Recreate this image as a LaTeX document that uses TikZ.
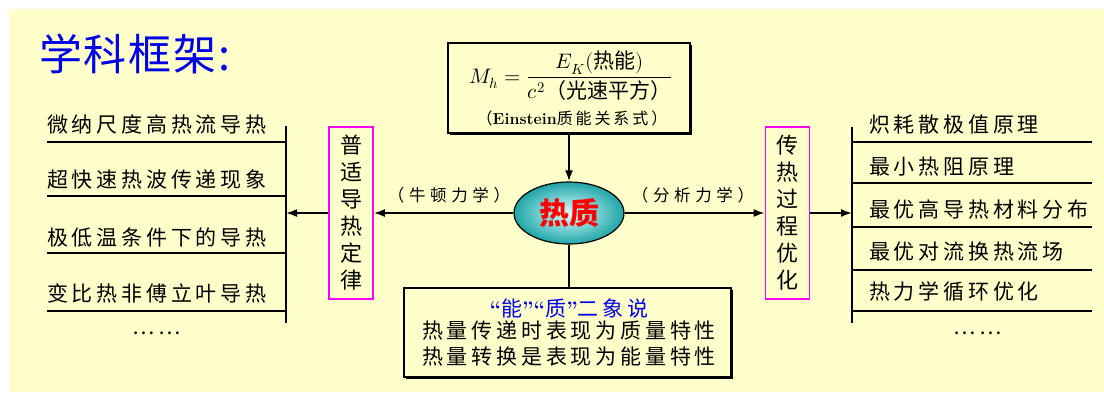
\documentclass[tikz,border=0pt]{standalone}
\usepackage{amsmath}
\usepackage{fontspec}
\usepackage{unicode-math}
\newfontfamily\cjk{Noto Sans CJK SC}
\newfontfamily\cjksp[LetterSpace=18]{Noto Sans CJK SC}
\newfontfamily\cjklbl[LetterSpace=28]{Noto Sans CJK SC}
\newfontfamily\cjktitle[LetterSpace=4]{Noto Sans CJK SC}
\usetikzlibrary{shapes.geometric,arrows.meta,shadows}
\definecolor{bgy}{HTML}{FFFFCC}
\definecolor{tblue}{HTML}{0000E6}
\definecolor{mag}{HTML}{FF00FF}
\definecolor{teal1}{HTML}{1FA5A8}
\newcommand{\myLq}{{\rmfamily\bfseries“}}
\newcommand{\myRq}{{\rmfamily\bfseries”}}
\begin{document}
\begin{tikzpicture}[x=1pt,y=-1pt,
 arr/.style={line width=1.8pt,-{Latex[length=11pt,width=8pt]}},
 ln/.style={line width=1.8pt},
 item/.style={anchor=west,inner sep=0pt,font=\cjksp\fontsize{21}{24}\selectfont},
 vbox/.style={draw=mag,line width=1.6pt,fill=bgy,minimum width=44pt,minimum height=172pt,inner sep=0pt,align=center,font=\cjk\fontsize{22}{27}\selectfont},
 sbox/.style={draw=black,line width=1.5pt,fill=bgy,inner sep=0pt,drop shadow={shadow xshift=1.5pt,shadow yshift=-1.5pt,opacity=1,fill=black}},
 lbl/.style={inner sep=0pt,font=\cjklbl\fontsize{16.5}{18}\selectfont}
]
\useasboundingbox (0,0) rectangle (1104,392);
\fill[bgy] (9,9) rectangle (1104,392);

% title
\node[anchor=west,inner sep=0pt,text=tblue,font=\cjktitle\fontsize{43}{46}\selectfont] (title) at (39,54) {学科框架:};

% formula box
\node[sbox,minimum width=242pt,minimum height=90pt] (fm) at (569,88) {};
\node[inner sep=0pt,font=\fontsize{21}{24}\selectfont] (eq) at (571,76)
  {$M_h=\dfrac{E_K(\mbox{\cjk 热能})}{c^2\mbox{\cjk （光速平方）}}$};
\node[inner sep=0pt,font=\cjksp\fontsize{16}{18}\selectfont] (ein) at (572,118) {（{\rmfamily\bfseries Einstein}质能关系式）};

% centre ellipse
\node[ellipse,draw=black,line width=1.2pt,inner color=white!85!cyan,outer color=teal1,
  minimum width=110pt,minimum height=62pt,text=red,
  font=\cjk\bfseries\fontsize{30}{32}\selectfont] (rz) at (569,213) {热质};

% side boxes
\node[vbox] (lb) at (351,213) {普\\适\\导\\热\\定\\律};
\node[vbox] (rb) at (787.5,213) {传\\热\\过\\程\\优\\化};

% bottom box
\node[sbox,minimum width=327pt,minimum height=89pt] (bb) at (567.5,332.5) {};
\node[inner sep=0pt,font=\cjksp\fontsize{21}{24}\selectfont,text=tblue] (b1) at (569,308) {\myLq 能\myRq\myLq 质\myRq 二象说};
\node[inner sep=0pt,font=\cjksp\fontsize{21}{24}\selectfont] (b2) at (569,331) {热量传递时表现为质量特性};
\node[inner sep=0pt,font=\cjksp\fontsize{21}{24}\selectfont] (b3) at (569,357) {热量转换是表现为能量特性};

% labels
\node[lbl] (nt) at (449,195) {（牛顿力学）};
\node[lbl] (fx) at (693,195) {（分析力学）};

% left list
\coordinate (lvt) at (286,126);
\coordinate (lvb) at (286,323);
\coordinate (lvm) at (286,213);
\draw[ln] (lvt) -- (lvb);
\foreach \t/\yt/\yl [count=\i] in {微纳尺度高热流导热/125/142,超快速热波传递现象/180/196,极低温条件下的导热/238/253,变比热非傅立叶导热/293/311}{
  \node[item] (L\i) at (47,\yt) {\t};
  \draw[ln] (47,\yl) -- (286,\yl);
}
\node[item,anchor=center] (Ld) at (157,333) {……};

% right list
\coordinate (rvt) at (852,127);
\coordinate (rvb) at (852,323);
\coordinate (rvm) at (852,213);
\draw[ln] (rvt) -- (rvb);
\foreach \t/\yt/\yl [count=\i] in {炽耗散极值原理/125/142,最小热阻原理/167/183,最优高导热材料分布/210/227,最优对流换热流场/252/270,热力学循环优化/292/311}{
  \node[item] (R\i) at (869,\yt) {\t};
  \draw[ln] (852,\yl) -- (1092,\yl);
}
\node[item,anchor=center] (Rd) at (978,333) {……};

% connectors
\draw[arr] (fm.south) -- (rz.north);
\draw[arr] (rz.west) -- (lb.east);
\draw[arr] (lb.west) -- (lvm);
\draw[arr] (rz.east) -- (rb.west);
\draw[arr] (rb.east) -- (rvm);
\draw[ln] (rz.south) -- (rz.south |- bb.north);
\end{tikzpicture}
\end{document}
